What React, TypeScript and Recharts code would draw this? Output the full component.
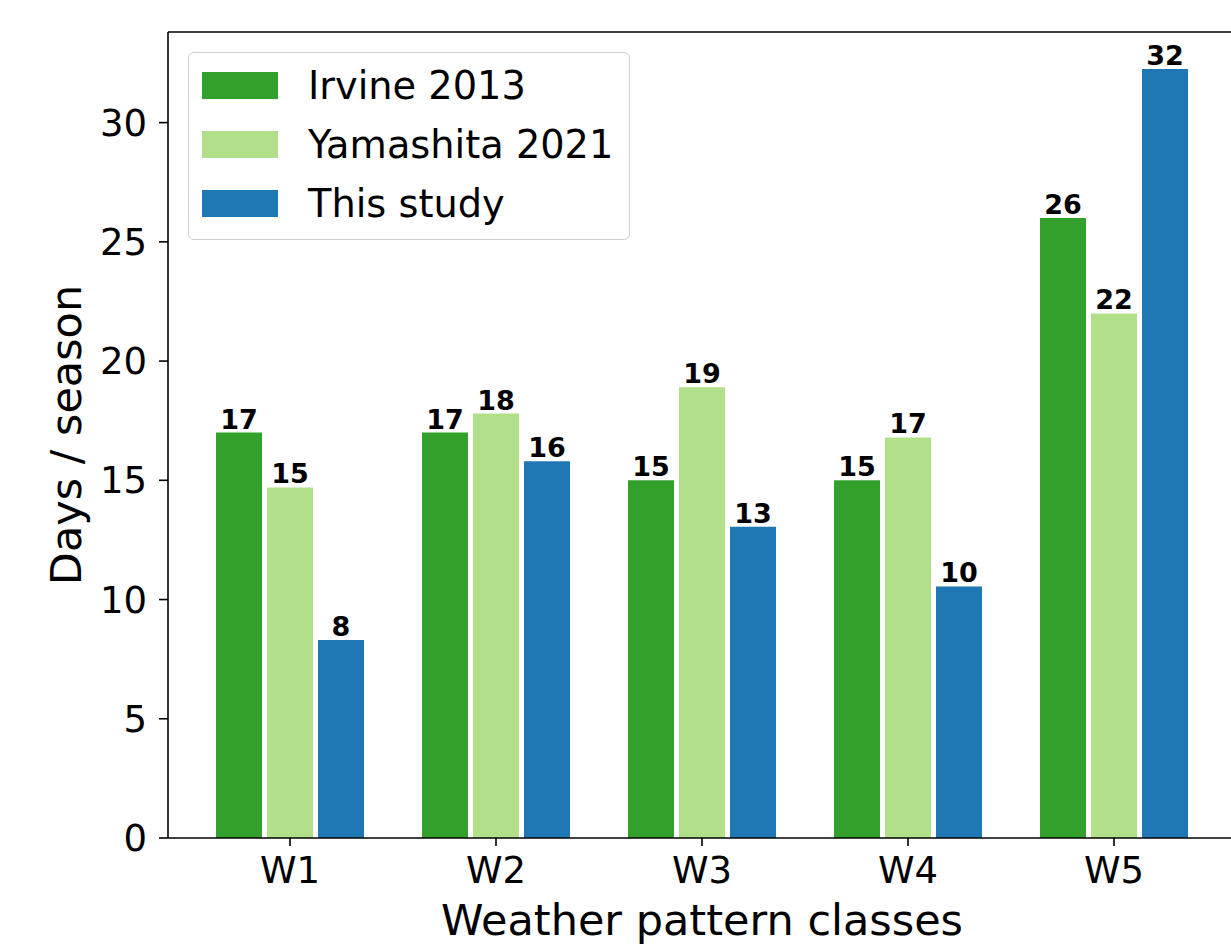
import React from 'react';
import { BarChart, Bar, XAxis, YAxis, Legend, LabelList, ReferenceLine, Label } from 'recharts';

const categories = ['W1', 'W2', 'W3', 'W4', 'W5'];
const irvine = [17, 17, 15, 15, 26];
const yamashita = [14.7, 17.8, 18.9, 16.8, 22.0];
const thisStudy = [8.3, 15.8, 13.05, 10.55, 32.25];
const irvineLabels = ['17', '17', '15', '15', '26'];
const yamashitaLabels = ['15', '18', '19', '17', '22'];
const thisStudyLabels = ['8', '16', '13', '10', '32'];
const yTicks = [0, 5, 10, 15, 20, 25, 30];
const seriesNames = ['Irvine 2013', 'Yamashita 2021', 'This study'];
const colors = ['#33a02c', '#b2df8a', '#1f78b4'];

const data = categories.map((name, i) => ({
  name,
  irvine: irvine[i],
  yamashita: yamashita[i],
  thisStudy: thisStudy[i],
  irvineLabel: irvineLabels[i],
  yamashitaLabel: yamashitaLabels[i],
  thisStudyLabel: thisStudyLabels[i],
}));

const FONT = '"DejaVu Sans", sans-serif';
const Y_MAX = 33.8;

const renderLegend = (props: any) => {
  const payload = [...(props.payload || [])].sort(
    (a: any, b: any) => seriesNames.indexOf(a.value) - seriesNames.indexOf(b.value)
  );
  return (
    <div
      style={{
        width: 442,
        height: 188,
        boxSizing: 'border-box',
        border: '1.5px solid #d0d0d0',
        borderRadius: 6,
        background: 'rgba(255,255,255,0.8)',
        position: 'relative',
        fontFamily: FONT,
      }}
    >
      {payload.map((entry: any, i: number) => (
        <div
          key={i}
          style={{
            position: 'absolute',
            left: 13,
            top: 32 + i * 59 - 22,
            height: 44,
            display: 'flex',
            alignItems: 'center',
          }}
        >
          <div style={{ width: 76, height: 27, background: entry.color }} />
          <span style={{ marginLeft: 30, fontSize: 38.3, color: '#000', whiteSpace: 'nowrap' }}>
            {entry.value}
          </span>
        </div>
      ))}
    </div>
  );
};

export default function App() {
  const labelStyle = { fontFamily: FONT, fontSize: 27, fontWeight: 'bold', fill: '#000' } as any;
  return (
    <div
      style={{
        position: 'fixed',
        left: 0,
        top: 0,
        width: 1231,
        height: 949,
        overflow: 'hidden',
        background: '#fff',
      }}
    >
      <BarChart
        width={1240}
        height={949}
        data={data}
        margin={{ top: 32, right: 4, bottom: 0, left: 0 }}
        barSize={46}
        barGap={5}
        style={{ fontFamily: FONT }}
      >
        <XAxis
          dataKey="name"
          height={111}
          padding={{ left: 19, right: 19 }}
          tickSize={8}
          tickMargin={11}
          axisLine={{ stroke: '#000', strokeWidth: 1.6 }}
          tickLine={{ stroke: '#000', strokeWidth: 1.6 }}
          tick={{ fill: '#000', fontSize: 37, fontFamily: FONT }}
          interval={0}
        >
          <Label
            value="Weather pattern classes"
            position="insideBottom"
            offset={14}
            style={{ fill: '#000', fontSize: 43, fontFamily: FONT }}
          />
        </XAxis>
        <YAxis
          type="number"
          domain={[0, Y_MAX]}
          ticks={yTicks}
          width={168}
          tickSize={9}
          tickMargin={12}
          axisLine={{ stroke: '#000', strokeWidth: 1.6 }}
          tickLine={{ stroke: '#000', strokeWidth: 1.6 }}
          tick={{ fill: '#000', fontSize: 37, fontFamily: FONT }}
        >
          <Label
            content={(p: any) => {
              const vb = p.viewBox || {};
              const cy = vb.y + vb.height / 2;
              return (
                <text
                  x={81}
                  y={cy}
                  transform={`rotate(-90 81 ${cy})`}
                  textAnchor="middle"
                  fill="#000"
                  fontSize={43}
                  fontFamily={FONT}
                >
                  Days / season
                </text>
              );
            }}
          />
        </YAxis>
        <ReferenceLine y={Y_MAX} stroke="#000" strokeWidth={1.6} />
        <Legend
          layout="horizontal"
          verticalAlign="middle"
          align="center"
          content={renderLegend}
          wrapperStyle={{ left: 188, top: 52, width: 'auto', height: 'auto' }}
        />
        <Bar dataKey="irvine" name={seriesNames[0]} fill={colors[0]} isAnimationActive={false}>
          <LabelList dataKey="irvineLabel" position="top" offset={4} style={labelStyle} />
        </Bar>
        <Bar dataKey="yamashita" name={seriesNames[1]} fill={colors[1]} isAnimationActive={false}>
          <LabelList dataKey="yamashitaLabel" position="top" offset={4} style={labelStyle} />
        </Bar>
        <Bar dataKey="thisStudy" name={seriesNames[2]} fill={colors[2]} isAnimationActive={false}>
          <LabelList dataKey="thisStudyLabel" position="top" offset={4} style={labelStyle} />
        </Bar>
      </BarChart>
    </div>
  );
}
